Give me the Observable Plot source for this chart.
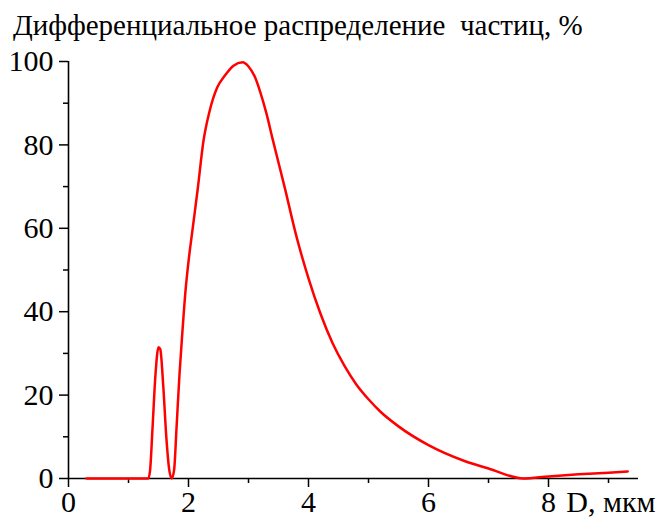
<!DOCTYPE html>
<html>
<head>
<meta charset="utf-8">
<script src="https://cdn.jsdelivr.net/npm/d3@7"></script>
<script src="https://cdn.jsdelivr.net/npm/@observablehq/plot@0.6"></script>
<style>
  html, body { margin: 0; padding: 0; background: #fff; }
  #wrap { width: 659px; height: 518px; position: relative; }
  #title { height: 45px; box-sizing: border-box; padding-top: 11px; padding-left: 13px;
           font-family: "Liberation Serif", "Times New Roman", Times, "DejaVu Serif", serif; font-size: 29px; line-height: 29px;
           white-space: pre; color: #000; }
  svg { display: block; overflow: visible; }
</style>
</head>
<body>
<div id="wrap">
  <div id="title"></div>
  <div id="chart"></div>
</div>
<script>
const titleText = "Дифференциальное распределение  частиц, %";
const xLabel = "D, мкм";

// particle diameter, µm
const diameter = [0.3, 1.33, 1.36, 1.40, 1.45, 1.50, 1.53, 1.58, 1.63, 1.68, 1.72, 1.76, 1.80, 1.85, 1.90, 1.95, 2.00, 2.07, 2.15, 2.25, 2.35, 2.48, 2.60, 2.75, 2.90, 3.00, 3.10, 3.20, 3.30, 3.40, 3.60, 3.80, 4.00, 4.20, 4.40, 4.60, 4.80, 5.00, 5.20, 5.50, 6.00, 6.60, 7.00, 7.58, 8.00, 8.50, 9.00, 9.32];
// differential distribution, %
const share    = [0,   0,    2,    12,   25,   31.5, 31,   22,   10,   2,    0,    2,    12,   25,   35.5, 45,   52,   60,   69,   81,   88,   93.8, 96.5, 99,   99.8, 98.8, 96.5, 92.5, 87.5, 81.5, 70,   58,   48,   39.5, 32.5, 27,   22.5, 19,   16,   12.5, 8,    4.2,  2.4,  0,    0.5,  1,    1.4,  1.7];

const xMajor = [0, 2, 4, 6, 8];
const xMinor = [1, 3, 5, 7, 9];
const yMajor = [0, 20, 40, 60, 80, 100];
const yMinor = [10, 30, 50, 70, 90];

const data = diameter.map((d, i) => ({d, v: share[i]}));

document.getElementById("title").textContent = titleText;

const font = "'Liberation Serif', 'Times New Roman', Times, 'DejaVu Serif', serif";

const chart = Plot.plot({
  width: 659,
  height: 473,
  marginTop: 16,
  marginBottom: 40,
  marginLeft: 68,
  marginRight: 21,
  style: {fontFamily: font, fontSize: "30px", color: "#000", background: "#fff", overflow: "visible"},
  x: {domain: [0, 9.5]},
  y: {domain: [0, 100]},
  marks: [
    Plot.axisX({ticks: xMajor, tickSize: 9, tickPadding: 3, tickFormat: d => String(d), label: null, fontSize: 30, strokeWidth: 1.5}),
    Plot.axisX({ticks: xMinor, tickSize: 5, text: null, label: null, strokeWidth: 1.5}),
    Plot.axisY({ticks: yMajor, tickSize: 9, tickPadding: 6, tickFormat: d => String(d), label: null, fontSize: 30, strokeWidth: 1.5}),
    Plot.axisY({ticks: yMinor, tickSize: 5, text: null, label: null, strokeWidth: 1.5}),
    Plot.ruleY([0], {stroke: "#000", strokeWidth: 1.6}),
    Plot.ruleX([0], {stroke: "#000", strokeWidth: 1.6}),
    Plot.line(data, {x: "d", y: "v", stroke: "#ff0000", strokeWidth: 2.5, curve: "monotone-x"}),
    Plot.text([xLabel], {frameAnchor: "bottom-right", text: d => d, dx: 17, dy: 12, textAnchor: "end", lineAnchor: "top", fontSize: 30, fill: "#000"})
  ]
});
document.getElementById("chart").appendChild(chart);
</script>
</body>
</html>
